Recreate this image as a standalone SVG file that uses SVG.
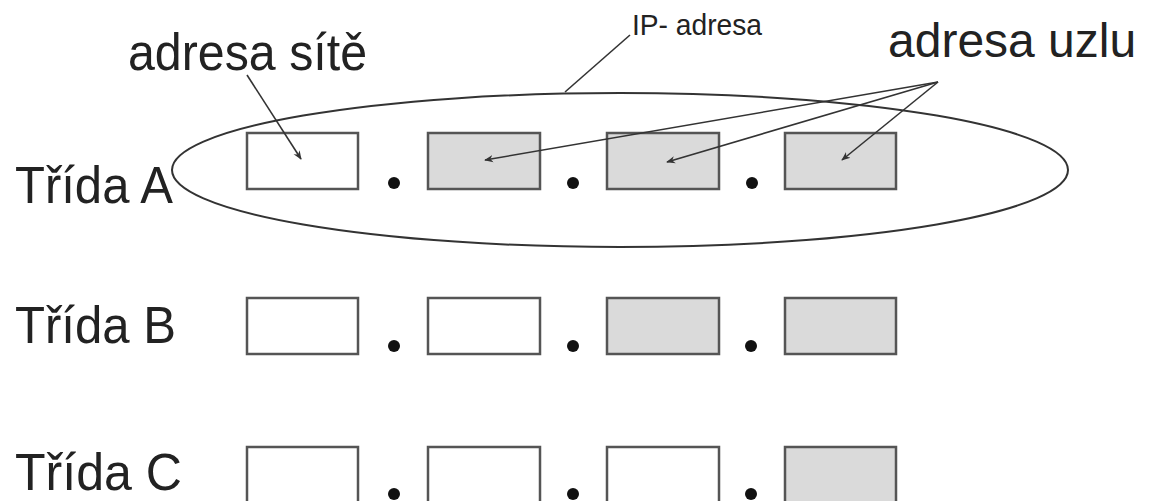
<svg xmlns="http://www.w3.org/2000/svg" width="1151" height="501" viewBox="0 0 1151 501">
<defs>
<style>
text{font-family:"Liberation Sans",Arial,sans-serif;fill:#222}
.lbl{font-size:52px}
.lbl2{font-size:48px}
.small{font-size:30px}
.box{stroke:#555;stroke-width:2.5}
.w{fill:#fff}
.g{fill:#dadada}
.dot{fill:#111}
.ln{stroke:#333;stroke-width:1.6;fill:none}
.ell{stroke:#333;stroke-width:2;fill:none}
</style>
<marker id="ah" viewBox="0 0 10 10" refX="9" refY="5" markerWidth="9" markerHeight="9" markerUnits="userSpaceOnUse" orient="auto">
<path d="M0,1 L10,5 L0,9 L3,5 Z" fill="#333"/>
</marker>
</defs>
<rect width="1151" height="501" fill="#fff"/>

<g id="rowA">
<text class="lbl" x="15" y="203" textLength="158" lengthAdjust="spacingAndGlyphs">Třída A</text>
<rect class="box w" x="247" y="133" width="111" height="56"/>
<rect class="box g" x="428" y="133" width="112" height="56"/>
<rect class="box g" x="607" y="133" width="112" height="56"/>
<rect class="box g" x="785" y="133" width="111" height="56"/>
<circle class="dot" cx="394" cy="183" r="6"/>
<circle class="dot" cx="573" cy="183" r="6"/>
<circle class="dot" cx="752" cy="183" r="6"/>
</g>

<g id="rowB">
<text class="lbl" x="15" y="343" textLength="161" lengthAdjust="spacingAndGlyphs">Třída B</text>
<rect class="box w" x="247" y="298" width="111" height="56"/>
<rect class="box w" x="428" y="298" width="112" height="56"/>
<rect class="box g" x="607" y="298" width="112" height="56"/>
<rect class="box g" x="785" y="298" width="111" height="56"/>
<circle class="dot" cx="394" cy="346" r="6"/>
<circle class="dot" cx="573" cy="346" r="6"/>
<circle class="dot" cx="751" cy="346" r="6"/>
</g>

<g id="rowC">
<text class="lbl" x="15" y="490" textLength="167" lengthAdjust="spacingAndGlyphs">Třída C</text>
<rect class="box w" x="247" y="447" width="111" height="56"/>
<rect class="box w" x="428" y="447" width="112" height="56"/>
<rect class="box w" x="607" y="447" width="112" height="56"/>
<rect class="box g" x="785" y="447" width="111" height="56"/>
<circle class="dot" cx="394" cy="494" r="6"/>
<circle class="dot" cx="573" cy="494" r="6"/>
<circle class="dot" cx="751" cy="494" r="6"/>
</g>

<g id="ip-ellipse">
<ellipse class="ell" cx="620" cy="170" rx="448" ry="77"/>
</g>

<g id="labels">
<text class="lbl" x="128" y="70" textLength="239" lengthAdjust="spacingAndGlyphs">adresa sítě</text>
<text class="lbl2" x="888" y="57">adresa uzlu</text>
<text class="small" x="632" y="35" textLength="130" lengthAdjust="spacingAndGlyphs">IP- adresa</text>
</g>

<g id="connectors">
<line class="ln" x1="630" y1="35" x2="565" y2="92"/>
<line class="ln" x1="247" y1="75" x2="301" y2="159" marker-end="url(#ah)"/>
<line class="ln" x1="938" y1="82" x2="485" y2="160" marker-end="url(#ah)"/>
<line class="ln" x1="938" y1="82" x2="667" y2="162" marker-end="url(#ah)"/>
<line class="ln" x1="938" y1="82" x2="842" y2="160" marker-end="url(#ah)"/>
</g>
</svg>
